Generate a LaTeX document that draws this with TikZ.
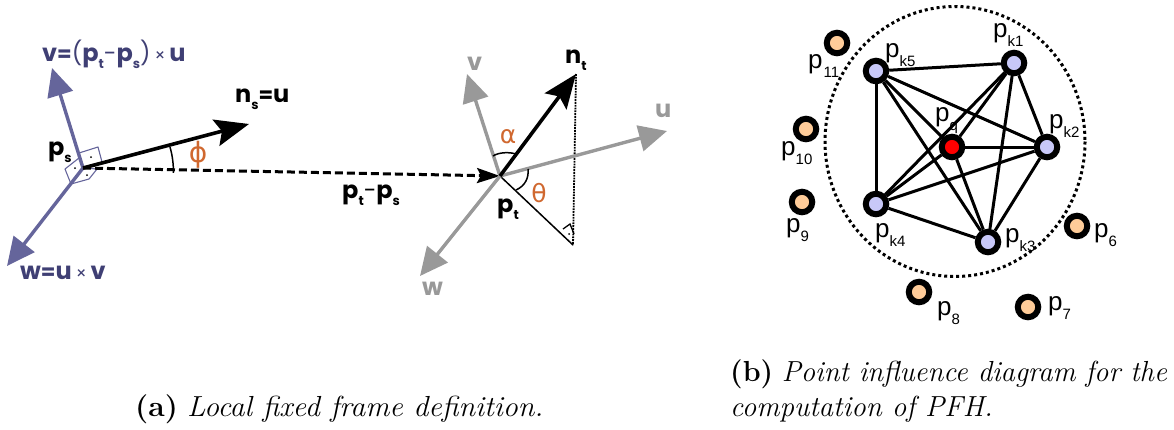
\documentclass[tikz,border=0pt]{standalone}
\usepackage{graphicx}
\usepackage{fontspec}
\usetikzlibrary{arrows.meta}
\newfontfamily\boldlab{Poppins}[UprightFont=* Bold]
\newfontfamily\thinlab{Poppins}
\newfontfamily\helv{Liberation Sans}
\newfontfamily\greek{DejaVu Sans}
\definecolor{slate}{HTML}{65659B}
\definecolor{navy}{HTML}{3F3F74}
\definecolor{midgray}{HTML}{999999}
\definecolor{rust}{HTML}{D0682F}
\definecolor{lav}{HTML}{C8C8F8}
\definecolor{peach}{HTML}{FFCC99}
\newcommand{\bsub}[1]{\raisebox{-7pt}{\fontsize{13}{13}\selectfont #1}}
\newcommand{\hp}[1]{p\raisebox{-9pt}{\fontsize{15}{15}\selectfont #1}}
\newcommand{\thinx}{\,{\thinlab\fontsize{17}{17}\selectfont ×}}
\newcommand{\thinp}[1]{{\thinlab\fontsize{23}{23}\selectfont #1}}
\newcommand{\eqs}{{\fontsize{21}{21}\selectfont =}}
\tikzset{
  lab/.style={inner sep=0pt,anchor=base west},
  blab/.style={lab,font=\boldlab\fontsize{24}{24}\selectfont},
  hlab/.style={lab,font=\helv\fontsize{26}{26}\selectfont},
  anglab/.style={lab,anchor=center,text=rust,font=\greek\fontsize{25}{25}\selectfont},
  captext/.style={lab,font=\fontsize{29}{32}\selectfont},
  slatearrow/.style={draw=slate,line width=3.4pt,-{Triangle[length=28pt,width=26pt,fill=slate]}},
  grayarrow/.style={draw=midgray,line width=3.4pt,-{Triangle[length=28pt,width=26pt,fill=midgray]}},
  blackarrow/.style={draw=black,line width=3.6pt,-{Stealth[length=34pt,width=27pt,inset=6pt]}},
  dasharrow/.style={draw=black,line width=3pt,dash pattern=on 8pt off 4pt,-{Stealth[length=23pt,width=15pt,inset=4pt]}},
  markerline/.style={draw=slate,line width=1.1pt,line join=round},
  mdot/.style={circle,fill=black,inner sep=0pt,minimum size=2pt},
  pk/.style={circle,draw=black,line width=6pt,fill=lav,minimum size=20.5pt,inner sep=0pt},
  pq/.style={pk,fill=red},
  po/.style={pk,fill=peach},
  linkline/.style={draw=black,line width=3pt}
}
\begin{document}
\begin{tikzpicture}[x=1pt,y=-1pt]
\useasboundingbox (0,0) rectangle (1174,429);
% ---- left: local frame
\coordinate (ps) at (83,168);
\coordinate (pt) at (500,176);
\coordinate (vs) at (52,68);
\coordinate (ws) at (7,266);
\coordinate (ns) at (249,124);
\coordinate (vt) at (467,74);
\coordinate (ut) at (667,131);
\coordinate (wt) at (420,276);
\coordinate (nt) at (576,74);
\coordinate (foot) at (573,245);
% right-angle markers
\draw[markerline] (ps) -- (79,153) -- (98,147) -- (102,162) -- cycle;
\draw[markerline] (ps) -- (79,158) -- (65,169) -- (71,184) -- cycle;
\draw[markerline] (ps) -- (97,169) -- (89,179) -- (71,184) -- cycle;
\node[mdot] (d1) at (91,157) {};
\node[mdot] (d2) at (75,168) {};
\node[mdot] (d3) at (87,175) {};
% frame axes at ps
\draw[slatearrow] (ps) -- (vs);
\draw[slatearrow] (ps) -- (ws);
\draw[dasharrow] (ps) -- (pt);
\draw[blackarrow] (ps) -- (ns);
\draw[black,line width=1.5pt] (170,147) arc[start angle=-16,end angle=1,radius=88];
% frame at pt
\draw[black,line width=1.5pt] (pt) -- (foot);
\draw[black,line width=1.8pt,densely dotted] (nt) -- (foot);
\draw[black,line width=1.3pt] (563,229) -- (570,224) -- (574,234);
\node[mdot] (d4) at (569,234) {};
\draw[grayarrow] (pt) -- (vt);
\draw[grayarrow] (pt) -- (ut);
\draw[grayarrow] (pt) -- (wt);
\draw[blackarrow] (pt) -- (nt);
\draw[black,line width=1.5pt] (493,156) .. controls (499,152) and (510,152) .. (516,154);
\draw[black,line width=1.5pt] (528,169) .. controls (529,178) and (525,186) .. (516,190);
% labels left
\node[blab,text=navy] (lv) at (42,61) {v\eqs\thinp{(}p\bsub{t}\thinp{-}p\bsub{s}\thinp{)}\thinx\,u};
\node[blab] (lns) at (235,102) {n\bsub{s}\eqs u};
\node[blab] (lps) at (48,155) {p\bsub{s}};
\node[blab,text=navy] (lw) at (20,279) {w\eqs u\thinx\,v};
\node[anglab,font=\greek\fontsize{28}{28}\selectfont] (phi) at (198,155) {ϕ};
\node[blab] (ldiff) at (342,198) {p\bsub{t}\thinp{-}p\bsub{s}};
\node[blab] (lpt) at (497,212) {p\bsub{t}};
\node[blab] (lnt) at (565,63) {n\bsub{t}};
\node[blab,text=midgray] (lvt) at (467,70) {v};
\node[blab,text=midgray] (lut) at (655,117) {u};
\node[blab,text=midgray] (lwt) at (422,295) {w};
\node[anglab] (alpha) at (508,137) {α};
\node[anglab] (theta) at (539,193) {θ};
% ---- right: influence region
\coordinate (cc) at (955,141.5);
\draw[black,line width=3pt,dash pattern=on 3pt off 3pt] (cc) ellipse[x radius=130,y radius=135];
\node[pk] (k1) at (1014,63) {};
\node[pk] (k2) at (1047,147) {};
\node[pk] (k3) at (988,242) {};
\node[pk] (k4) at (876,204) {};
\node[pk] (k5) at (876,71) {};
\node[pq] (q) at (952,147) {};
\foreach \a/\b in {k5/k1,k5/k2,k5/k3,k5/k4,k5/q,k1/k2,k1/k3,k1/k4,k1/q,k2/k3,k2/k4,k2/q,k3/k4,k3/q,k4/q}
  \draw[linkline] (\a) -- (\b);
\node[po] (p6) at (1077,226) {};
\node[po] (p7) at (1028,307) {};
\node[po] (p8) at (919,292) {};
\node[po] (p9) at (802,202) {};
\node[po] (p10) at (806,129) {};
\node[po] (p11) at (837,43) {};
\node[hlab] (lk1) at (993,37) {\hp{k1}};
\node[hlab] (lk2) at (1049,128) {\hp{k2}};
\node[hlab] (lk3) at (1005,242) {\hp{k3}};
\node[hlab] (lk4) at (875,237) {\hp{k4}};
\node[hlab] (lk5) at (885,57) {\hp{k5}};
\node[hlab] (lq) at (935,121) {\hp{q}};
\node[hlab] (l6) at (1094,237) {\hp{6}};
\node[hlab] (l7) at (1048,310) {\hp{7}};
\node[hlab] (l8) at (937,315) {\hp{8}};
\node[hlab] (l9) at (786,232) {\hp{9}};
\node[hlab] (l10) at (781,155) {\hp{10}};
\node[hlab] (l11) at (808,68) {\hp{\hspace{1pt}11}};
% captions
\node[captext] (capa) at (135,416) {\scalebox{1.037}[1]{\textbf{(a)} \textit{Local fixed frame definition.}}};
\node[captext] (capb) at (730,381) {\scalebox{0.988}[1]{\textbf{(b)} \textit{Point influence diagram for the}}};
\node[captext] (capc) at (730,416) {\textit{computation of PFH.}};
\end{tikzpicture}
\end{document}
